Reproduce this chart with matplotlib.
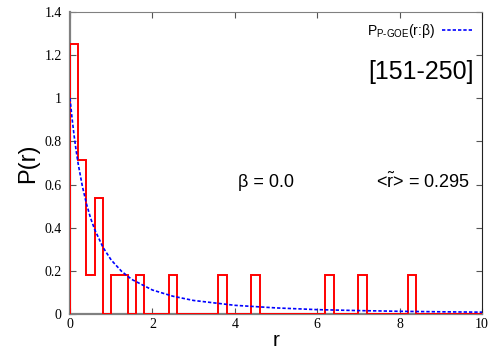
import matplotlib
matplotlib.use('Agg')
import matplotlib.pyplot as plt
import numpy as np

# histogram of r (bin width 0.2, normalised density), non-empty bins only
bin_width = 0.2
bin_starts = [0.0, 0.2, 0.4, 0.6, 1.0, 1.2, 1.6, 2.4, 3.6, 4.4, 6.2, 7.0, 8.2]
bin_heights = [1.25, 0.714, 0.179, 0.536, 0.179, 0.179, 0.179, 0.179, 0.179,
               0.179, 0.179, 0.179, 0.179]

# P_P-GOE(r; beta=0) curve
curve_r = [0, 0.05, 0.1, 0.15, 0.2, 0.3, 0.4, 0.5, 0.6, 0.8, 1.0, 1.25, 1.5,
           2.0, 2.5, 3.0, 4.0, 5.0, 6.0, 7.0, 8.0, 9.0, 10.0]
curve_p = [1.0, 0.907, 0.826, 0.756, 0.694, 0.592, 0.510, 0.444, 0.391, 0.309,
           0.25, 0.198, 0.16, 0.111, 0.082, 0.0625, 0.040, 0.028, 0.020,
           0.0156, 0.0123, 0.010, 0.0083]

xticks = [0, 2, 4, 6, 8, 10]
yticks = [0, 0.2, 0.4, 0.6, 0.8, 1.0, 1.2, 1.4]
ytick_labels = ['0', '0.2', '0.4', '0.6', '0.8', '1', '1.2', '1.4']

plt.rcParams['mathtext.fontset'] = 'custom'
plt.rcParams['mathtext.rm'] = 'Liberation Sans'
plt.rcParams['mathtext.it'] = 'Liberation Sans:italic'

sans = 'Liberation Sans'
serif = 'Liberation Serif'

fig = plt.figure(figsize=(5, 3.5), dpi=100)
ax = fig.add_axes([0.14, 0.103, 0.824, 0.863])

edges = np.round(np.arange(0, 10.0 + bin_width / 2, bin_width), 6)
heights = np.zeros(len(edges) - 1)
for s, h in zip(bin_starts, bin_heights):
    heights[int(round(s / bin_width))] = h

ax.stairs(heights, edges, baseline=0, color='red', lw=1.4, zorder=3)
line, = ax.plot(curve_r, curve_p, color='blue', lw=1.2, ls=(0, (2, 1.2)), zorder=4)

ax.set_xlim(0, 10)
ax.set_ylim(0, 1.4)
ax.set_xticks(xticks)
ax.set_xticklabels([str(t) for t in xticks], family=serif, fontsize=10)
ax.set_yticks(yticks)
ax.set_yticklabels(ytick_labels, family=serif, fontsize=10)
ax.tick_params(direction='in', length=4, width=0.8, color='#555555',
               top=True, right=True)
ax.tick_params(axis='y', pad=6)
ax.tick_params(axis='x', pad=3)

for side in ['left', 'bottom']:
    ax.spines[side].set_color('#808080')
    ax.spines[side].set_linewidth(1.6)
ax.spines['top'].set_color('#808080')
ax.spines['top'].set_linewidth(0.8)
ax.spines['right'].set_color('#222222')
ax.spines['right'].set_linewidth(0.8)

ax.set_xlabel('r', family=sans, fontsize=15, labelpad=0)
ax.set_ylabel('P(r)', family=sans, fontsize=17, labelpad=4)

ax.text(0.98, 0.80, '[151-250]', transform=ax.transAxes, ha='right', va='center',
        family=sans, fontsize=18)
ax.text(0.475, 0.435, '\u03b2 = 0.0', transform=ax.transAxes, ha='center',
        va='center', family=sans, fontsize=13)
ax.text(0.97, 0.435, r'<$\tilde{\mathrm{r}}$> = 0.295', transform=ax.transAxes,
        ha='right', va='center', family=sans, fontsize=13)

leg_label = r'P$_{\mathrm{P\text{-}GOE}}$(r:' + '\u03b2)'
ax.legend([line], [leg_label], loc='upper right', frameon=False,
          prop={'family': sans, 'size': 10}, handlelength=2.2,
          handletextpad=0.5, markerfirst=False, borderaxespad=0.3)

fig.savefig('out.png', dpi=100)
